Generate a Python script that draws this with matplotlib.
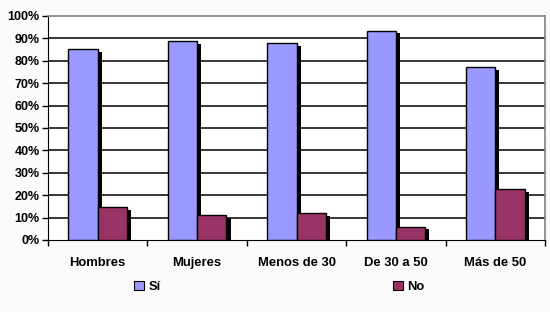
import matplotlib
matplotlib.use('Agg')
from matplotlib import pyplot as plt
from matplotlib import patheffects as pe
from matplotlib.patches import Patch
import numpy as np

categories = ['Hombres', 'Mujeres', 'Menos de 30', 'De 30 a 50', 'Más de 50']
si_vals = [85.1, 88.7, 87.8, 93.5, 77.1]
no_vals = [14.6, 11.2, 11.9, 6.0, 22.6]
series_names = ['Sí', 'No']
colors = ['#9999ff', '#993366']

plt.rcParams['font.family'] = ['Liberation Sans', 'DejaVu Sans']
plt.rcParams['font.weight'] = 'bold'

fig = plt.figure(figsize=(5.5, 3.12), dpi=100, facecolor='#fbfbfb')
ax = fig.add_axes([48 / 550, 1 - 240 / 312, 497 / 550, 224 / 312])
ax.set_facecolor('white')

x = np.arange(len(categories))
w = 0.295
shadow = [pe.SimplePatchShadow(offset=(3, -2), shadow_rgbFace='black', alpha=1.0), pe.Normal()]

for v in range(10, 100, 10):
    ax.axhline(v, color='black', lw=1.1, zorder=1)

b1 = ax.bar(x - w / 2, si_vals, w, color=colors[0], edgecolor='black', lw=1.0, zorder=3)
b2 = ax.bar(x + w / 2, no_vals, w, color=colors[1], edgecolor='black', lw=1.0, zorder=3)
for b in list(b1) + list(b2):
    b.set_path_effects(shadow)

ax.set_xlim(-0.5, len(categories) - 0.5)
ax.set_ylim(0, 100)
ax.set_yticks(range(0, 101, 10))
ax.set_yticklabels([f'{v}%' for v in range(0, 101, 10)], fontsize=9, fontweight='bold')
ax.set_xticks(np.arange(-0.5, len(categories), 1.0))
ax.set_xticklabels([])
ax.set_xticks(x, minor=True)
ax.set_xticklabels(categories, minor=True, fontsize=9.4, fontweight='bold')
ax.tick_params(axis='x', which='minor', length=0, pad=12)
ax.tick_params(axis='x', which='major', length=4, width=1, color='black', direction='out')
ax.tick_params(axis='y', length=4, width=1, pad=2, direction='out')

for s in ['top', 'right']:
    ax.spines[s].set_color('#808080')
    ax.spines[s].set_linewidth(1.2)
ax.spines['left'].set_color('black')
ax.spines['bottom'].set_color('black')

# legend entries placed separately, like the wide Excel legend
for name, col, xpos in zip(series_names, colors, [134, 393]):
    h = Patch(facecolor=col, edgecolor='black', lw=0.8)
    fig.legend(handles=[h], labels=[name], loc='center left',
               bbox_to_anchor=(xpos / 550, 1 - 287 / 312), frameon=False,
               borderaxespad=0, borderpad=0,
               handlelength=0.75, handleheight=0.75, handletextpad=0.35,
               prop={'size': 9.4, 'weight': 'bold'})

plt.savefig('out.png', dpi=100, facecolor=fig.get_facecolor())
